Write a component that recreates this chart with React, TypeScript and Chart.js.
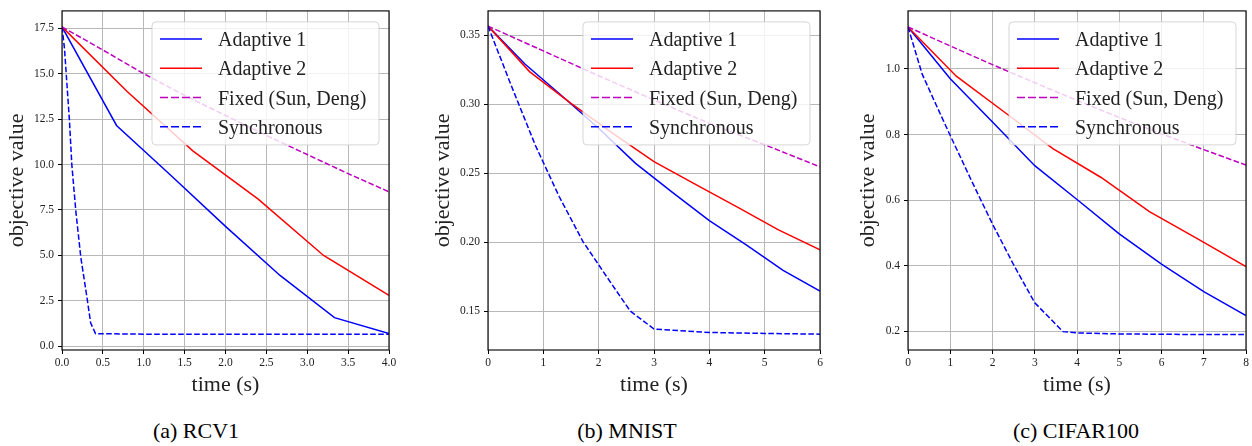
import React, { useEffect, useRef } from "react";
import { Chart, registerables } from "chart.js";

Chart.register(...registerables);

// ---------- data ----------
const seriesLabels = ["Adaptive 1", "Adaptive 2", "Fixed (Sun, Deng)", "Synchronous"];
const seriesColors = ["#0000ff", "#ff0000", "#bf00bf", "#0000ff"];

const captions = ["(a) RCV1", "(b) MNIST", "(c) CIFAR100"];
const xAxisTitle = "time (s)";
const yAxisTitle = "objective value";

// RCV1
const rcv1Adaptive1 = [[0, 17.57], [0.667, 12.15], [1.333, 9.4], [2.0, 6.6], [2.667, 3.9], [3.333, 1.58], [4.0, 0.7]];
const rcv1Adaptive2 = [[0, 17.57], [0.8, 14.0], [1.6, 10.75], [2.4, 8.1], [3.2, 5.0], [4.0, 2.8]];
const rcv1Fixed = [[0, 17.57], [0.5, 16.3], [1, 15.0], [1.5, 13.8], [2, 12.7], [2.5, 11.6], [3, 10.55], [3.5, 9.5], [4, 8.5]];
const rcv1Sync = [[0, 17.57], [0.03, 16.4], [0.05, 15.1], [0.09, 12.5], [0.12, 10.0], [0.17, 7.4], [0.23, 4.9], [0.31, 2.55], [0.35, 1.3], [0.41, 0.7], [1, 0.67], [2, 0.66], [3, 0.66], [4, 0.66]];
const rcv1XTicks = [0, 0.5, 1, 1.5, 2, 2.5, 3, 3.5, 4];
const rcv1YTicks = [0, 2.5, 5, 7.5, 10, 12.5, 15, 17.5];

// MNIST
const mnistAdaptive1 = [[0, 0.3565], [0.667, 0.329], [1.333, 0.306], [2.0, 0.2825], [2.667, 0.257], [3.333, 0.236], [4.0, 0.2155], [4.667, 0.198], [5.333, 0.1795], [6.0, 0.1644]];
const mnistAdaptive2 = [[0, 0.3565], [0.75, 0.3235], [1.5, 0.3005], [2.25, 0.279], [3.0, 0.2583], [3.75, 0.2418], [4.5, 0.2255], [5.25, 0.2088], [6.0, 0.1943]];
const mnistFixed = [[0, 0.3565], [1, 0.3385], [2, 0.3205], [3, 0.303], [4, 0.286], [5, 0.2705], [6, 0.2545]];
const mnistSync = [[0, 0.3565], [0.429, 0.3125], [0.857, 0.27], [1.286, 0.233], [1.714, 0.2005], [2.143, 0.175], [2.571, 0.15], [3.0, 0.137], [4, 0.1345], [5, 0.1338], [6, 0.1333]];
const mnistXTicks = [0, 1, 2, 3, 4, 5, 6];
const mnistYTicks = [0.15, 0.2, 0.25, 0.3, 0.35];

// CIFAR100
const cifarAdaptive1 = [[0, 1.128], [1, 0.97], [2, 0.838], [3, 0.705], [4, 0.602], [5, 0.497], [6, 0.405], [7, 0.321], [8, 0.248]];
const cifarAdaptive2 = [[0, 1.128], [1.143, 0.978], [2.286, 0.868], [3.429, 0.757], [4.571, 0.669], [5.714, 0.565], [6.857, 0.482], [8, 0.397]];
const cifarFixed = [[0, 1.128], [1, 1.07], [2, 1.013], [3, 0.958], [4, 0.904], [5, 0.852], [6, 0.802], [7, 0.754], [8, 0.707]];
const cifarSync = [[0, 1.128], [0.333, 0.985], [0.667, 0.89], [1, 0.797], [1.5, 0.66], [2, 0.527], [2.5, 0.403], [3, 0.287], [3.667, 0.199], [4, 0.195], [5, 0.192], [6, 0.191], [7, 0.19], [8, 0.19]];
const cifarXTicks = [0, 1, 2, 3, 4, 5, 6, 7, 8];
const cifarYTicks = [0.2, 0.4, 0.6, 0.8, 1.0];

// ---------- layout / style ----------
const FONT = "'Liberation Serif', 'Times New Roman', serif";

type Panel = {
  series: number[][][];
  xTicks: number[];
  yTicks: number[];
  xMax: number;
  yMin: number;
  yMax: number;
  xDec: number;
  yDec: number;
  left: number;
  width: number;
  yWidth: number;
  padRight: number;
  yTitlePad: number;
  captionX: number;
};

const panels: Panel[] = [
  {
    series: [rcv1Adaptive1, rcv1Adaptive2, rcv1Fixed, rcv1Sync],
    xTicks: rcv1XTicks, yTicks: rcv1YTicks, xMax: 4, yMin: -0.2, yMax: 18.45,
    xDec: 1, yDec: 1, left: 0, width: 400, yWidth: 62, padRight: 11, yTitlePad: 4, captionX: 196,
  },
  {
    series: [mnistAdaptive1, mnistAdaptive2, mnistFixed, mnistSync],
    xTicks: mnistXTicks, yTicks: mnistYTicks, xMax: 6, yMin: 0.1218, yMax: 0.3675,
    xDec: 0, yDec: 2, left: 420, width: 410, yWidth: 68, padRight: 10, yTitlePad: 10, captionX: 627,
  },
  {
    series: [cifarAdaptive1, cifarAdaptive2, cifarFixed, cifarSync],
    xTicks: cifarXTicks, yTicks: cifarYTicks, xMax: 8, yMin: 0.143, yMax: 1.177,
    xDec: 0, yDec: 1, left: 840, width: 412, yWidth: 68, padRight: 6, yTitlePad: 15, captionX: 1076,
  },
];

const CANVAS_H = 400;
const dashFor = (i: number) => (i >= 2 ? [5.6, 2.4] : []);
const legendDashFor = (i: number) => (i >= 2 ? [8, 3] : []);

const framePlugin = {
  id: "frame",
  afterDraw(chart: any) {
    const { ctx, chartArea: a } = chart;
    ctx.save();
    ctx.strokeStyle = "#111";
    ctx.lineWidth = 1.2;
    ctx.strokeRect(a.left, a.top, a.right - a.left, a.bottom - a.top);
    ctx.restore();
  },
};

const legendPlugin = {
  id: "boxLegend",
  afterDatasetsDraw(chart: any) {
    const { ctx, chartArea: a } = chart;
    const w = 227;
    const h = 123;
    const left = a.right - 10 - w;
    const top = a.top + 11;
    ctx.save();
    ctx.beginPath();
    if (ctx.roundRect) ctx.roundRect(left, top, w, h, 4);
    else ctx.rect(left, top, w, h);
    ctx.fillStyle = "rgba(255,255,255,0.8)";
    ctx.fill();
    ctx.strokeStyle = "rgba(204,204,204,0.8)";
    ctx.lineWidth = 1;
    ctx.stroke();
    chart.data.datasets.forEach((ds: any, i: number) => {
      const y = top + 17 + i * 29.3;
      ctx.beginPath();
      ctx.setLineDash(legendDashFor(i));
      ctx.strokeStyle = ds.borderColor;
      ctx.lineWidth = 1.5;
      ctx.moveTo(left + 8, y);
      ctx.lineTo(left + 50, y);
      ctx.stroke();
      ctx.setLineDash([]);
      ctx.fillStyle = "#222";
      ctx.font = `20px ${FONT}`;
      ctx.textAlign = "left";
      ctx.textBaseline = "alphabetic";
      ctx.fillText(ds.label, left + 66, y + 7);
    });
    ctx.restore();
  },
};

function PanelChart({ p }: { p: Panel }) {
  const ref = useRef<HTMLCanvasElement | null>(null);
  useEffect(() => {
    if (!ref.current) return;
    const gridCfg = { color: "#b8b8b8", lineWidth: 1, tickColor: "#000", tickLength: 4, drawTicks: true };
    const chart = new Chart(ref.current, {
      type: "line",
      data: {
        datasets: p.series.map((pts, i) => ({
          label: seriesLabels[i],
          data: pts.map(([x, y]) => ({ x, y })),
          borderColor: seriesColors[i],
          backgroundColor: seriesColors[i],
          borderDash: dashFor(i),
          borderWidth: 1.5,
          pointRadius: 0,
          tension: 0,
          fill: false,
          order: 10 - i,
        })),
      },
      options: {
        responsive: false,
        animation: false,
        devicePixelRatio: 1,
        layout: { padding: { top: 7, right: p.padRight, left: 0, bottom: 0 } },
        plugins: { legend: { display: false }, tooltip: { enabled: false } },
        scales: {
          x: {
            type: "linear",
            min: 0,
            max: p.xMax,
            afterBuildTicks: (s: any) => {
              s.ticks = p.xTicks.map((v) => ({ value: v }));
            },
            afterFit: (s: any) => {
              s.height = 50;
            },
            grid: gridCfg,
            border: { display: false },
            ticks: {
              font: { family: FONT, size: 11.5 },
              color: "#222",
              padding: 2,
              maxRotation: 0,
              autoSkip: false,
              callback: (v: any) => Number(v).toFixed(p.xDec),
            },
            title: {
              display: true,
              text: xAxisTitle,
              font: { family: FONT, size: 22 },
              color: "#222",
              padding: { top: 0, bottom: 2 },
            },
          },
          y: {
            type: "linear",
            min: p.yMin,
            max: p.yMax,
            afterBuildTicks: (s: any) => {
              s.ticks = p.yTicks.map((v) => ({ value: v }));
            },
            afterFit: (s: any) => {
              s.width = p.yWidth;
            },
            grid: gridCfg,
            border: { display: false },
            ticks: {
              font: { family: FONT, size: 11.5 },
              color: "#222",
              padding: 4,
              autoSkip: false,
              callback: (v: any) => Number(v).toFixed(p.yDec),
            },
            title: {
              display: true,
              text: yAxisTitle,
              font: { family: FONT, size: 22 },
              color: "#222",
              padding: { top: p.yTitlePad, bottom: 0 },
            },
          },
        },
      } as any,
      plugins: [legendPlugin, framePlugin],
    });
    return () => chart.destroy();
  }, [p]);
  return (
    <canvas
      ref={ref}
      width={p.width}
      height={CANVAS_H}
      style={{ position: "absolute", left: p.left, top: 0, width: p.width, height: CANVAS_H }}
    />
  );
}

export default function App() {
  return (
    <div
      style={{
        position: "absolute",
        left: 0,
        top: 0,
        width: 1252,
        height: 446,
        overflow: "hidden",
        background: "#fff",
      }}
    >
      {panels.map((p, i) => (
        <PanelChart key={i} p={p} />
      ))}
      {panels.map((p, i) => (
        <div
          key={"c" + i}
          style={{
            position: "absolute",
            left: p.captionX - 150,
            top: 418,
            width: 300,
            textAlign: "center",
            fontFamily: FONT,
            fontSize: 22,
            lineHeight: "26px",
            color: "#000",
          }}
        >
          {captions[i]}
        </div>
      ))}
    </div>
  );
}
